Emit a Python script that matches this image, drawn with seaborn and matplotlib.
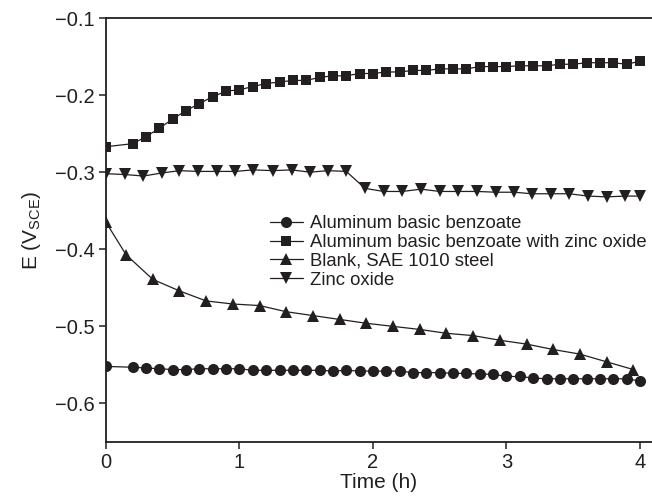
import matplotlib
matplotlib.use("Agg")
import matplotlib.pyplot as plt
import seaborn as sns
import pandas as pd

# ---- data ----
t_circle = [0, 0.2, 0.3, 0.4, 0.5, 0.6, 0.7, 0.8, 0.9, 1.0, 1.1, 1.2, 1.3, 1.4, 1.5,
            1.6, 1.7, 1.8, 1.9, 2.0, 2.1, 2.2, 2.3, 2.4, 2.5, 2.6, 2.7, 2.8, 2.9, 3.0,
            3.1, 3.2, 3.3, 3.4, 3.5, 3.6, 3.7, 3.8, 3.9, 4.0]
e_alb = [-0.552, -0.553, -0.554, -0.555, -0.556, -0.556, -0.555, -0.555, -0.555, -0.555,
         -0.557, -0.557, -0.557, -0.557, -0.557, -0.557, -0.558, -0.557, -0.558, -0.558,
         -0.558, -0.558, -0.560, -0.560, -0.560, -0.561, -0.561, -0.562, -0.562, -0.565,
         -0.565, -0.567, -0.568, -0.568, -0.568, -0.568, -0.568, -0.568, -0.568, -0.571]

t_square = [0, 0.2, 0.3, 0.4, 0.5, 0.6, 0.7, 0.8, 0.9, 1.0, 1.1, 1.2, 1.3, 1.4, 1.5,
            1.6, 1.7, 1.8, 1.9, 2.0, 2.1, 2.2, 2.3, 2.4, 2.5, 2.6, 2.7, 2.8, 2.9, 3.0,
            3.1, 3.2, 3.3, 3.4, 3.5, 3.6, 3.7, 3.8, 3.9, 4.0]
e_alb_zno = [-0.267, -0.263, -0.254, -0.243, -0.231, -0.220, -0.211, -0.202, -0.195, -0.193,
             -0.189, -0.185, -0.183, -0.181, -0.181, -0.177, -0.175, -0.175, -0.172, -0.172,
             -0.170, -0.170, -0.168, -0.168, -0.166, -0.166, -0.166, -0.163, -0.163, -0.163,
             -0.162, -0.162, -0.162, -0.160, -0.160, -0.158, -0.158, -0.158, -0.160, -0.156]

t_blank = [0, 0.15, 0.35, 0.55, 0.75, 0.95, 1.15, 1.35, 1.55, 1.75, 1.95, 2.15, 2.35,
           2.55, 2.75, 2.95, 3.15, 3.35, 3.55, 3.75, 3.95]
e_blank = [-0.365, -0.407, -0.439, -0.454, -0.467, -0.471, -0.473, -0.481, -0.486, -0.491,
           -0.496, -0.500, -0.504, -0.509, -0.512, -0.518, -0.523, -0.530, -0.536, -0.546,
           -0.556]

t_zno = [0, 0.14, 0.28, 0.42, 0.55, 0.69, 0.83, 0.97, 1.10, 1.25, 1.39, 1.53, 1.66, 1.80,
         1.94, 2.08, 2.22, 2.36, 2.50, 2.64, 2.78, 2.92, 3.06, 3.19, 3.33, 3.47, 3.61, 3.75,
         3.89, 4.00]
e_zno = [-0.302, -0.303, -0.305, -0.301, -0.298, -0.299, -0.299, -0.299, -0.297, -0.298,
         -0.297, -0.300, -0.298, -0.299, -0.321, -0.325, -0.325, -0.322, -0.325, -0.325,
         -0.325, -0.326, -0.326, -0.328, -0.328, -0.328, -0.331, -0.332, -0.331, -0.331]

labels = ["Aluminum basic benzoate",
          "Aluminum basic benzoate with zinc oxide",
          "Blank, SAE 1010 steel",
          "Zinc oxide"]
x_ticks = [0, 1, 2, 3, 4]
y_ticks = [-0.1, -0.2, -0.3, -0.4, -0.5, -0.6]

# ---- style ----
sns.set_theme(style="ticks")
plt.rcParams["font.family"] = ["Liberation Sans", "DejaVu Sans"]
plt.rcParams["mathtext.fontset"] = "custom"
plt.rcParams["mathtext.rm"] = "Liberation Sans"
plt.rcParams["mathtext.it"] = "Liberation Sans:italic"
plt.rcParams["axes.unicode_minus"] = True

ink = "#231f20"
fig = plt.figure(figsize=(6.52, 5.0), dpi=100)
ax = fig.add_axes([106 / 652, 58 / 500, 546 / 652, 424 / 500])

series = [
    (t_circle, e_alb, "o", 8.0),
    (t_square, e_alb_zno, "s", 7.8),
    (t_blank, e_blank, "^", 8.5),
    (t_zno, e_zno, "v", 8.5),
]
for (tx, ey, mk, ms), lab in zip(series, labels):
    df = pd.DataFrame({"t": tx, "E": ey})
    sns.lineplot(data=df, x="t", y="E", ax=ax, color=ink, marker=mk, markersize=ms,
                 markeredgewidth=0, linewidth=0.9, label=lab, sort=False)

ax.set_xlim(0, 4.09)
ax.set_ylim(-0.65, -0.1)
ax.set_xticks(x_ticks)
ax.set_xticklabels([str(v) for v in x_ticks])
ax.set_yticks(y_ticks)
ax.set_yticklabels([f"\u2212{abs(v):.1f}" for v in y_ticks])

for side in ["left", "bottom", "top"]:
    ax.spines[side].set_color(ink)
    ax.spines[side].set_linewidth(1.3)
ax.spines["right"].set_visible(False)
ax.tick_params(axis="both", direction="out", length=5, width=1.1, color=ink,
               labelcolor=ink, labelsize=14.5, pad=3)

ax.set_xlabel("Time (h)", fontsize=15, color=ink, labelpad=1)
ax.set_ylabel(r"E (V$_{\mathrm{SCE}}$)", fontsize=15, color=ink, labelpad=9)

leg = ax.legend(loc="upper left", bbox_to_anchor=(0.30, 0.535), frameon=False,
                fontsize=13.3, handlelength=1.8, handletextpad=0.4, labelspacing=0.1,
                borderpad=0, borderaxespad=0)
for txt in leg.get_texts():
    txt.set_color(ink)

fig.savefig("out.png", dpi=100)
